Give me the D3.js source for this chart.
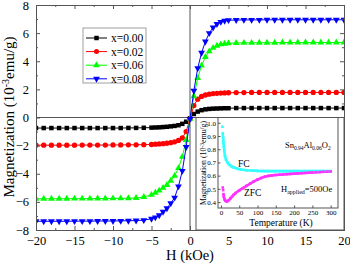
<!DOCTYPE html>
<html>
<head>
<meta charset="utf-8">
<script src="https://cdn.jsdelivr.net/npm/d3@7"></script>
<style>
  body { margin: 0; background: #fff; }
  svg { display: block; font-family: "Liberation Serif", "Times New Roman", serif; }
</style>
</head>
<body>
<svg id="chart" width="350" height="264"></svg>
<script>
  // field values (kOe), shared by all four loops
  var fieldH = [-20,-19,-18,-17,-16,-15,-14,-13,-12,-11,-10,-9,-8,-7,-6,
    -5,-4.5,-4,-3.5,-3,-2.5,-2,-1.5,-1,-0.5,0,0.5,1,1.5,2,2.5,3,3.5,4,4.5,5,
    6,7,8,9,10,11,12,13,14,15,16,17,18,19,20]

  var mX000 = [-0.75,-0.75,-0.75,-0.75,-0.75,-0.75,-0.75,-0.75,-0.75,-0.75,-0.75,-0.75,-0.74,-0.74,-0.73,
    -0.72,-0.71,-0.70,-0.68,-0.66,-0.63,-0.60,-0.55,-0.45,-0.30,-0.05,0.25,0.42,0.52,0.58,0.61,0.63,0.64,0.65,0.66,0.66,
    0.67,0.67,0.67,0.67,0.67,0.67,0.67,0.67,0.67,0.67,0.67,0.67,0.67,0.67,0.67]
  var mX002 = [-1.97,-1.97,-1.97,-1.97,-1.97,-1.97,-1.96,-1.96,-1.96,-1.96,-1.95,-1.95,-1.94,-1.94,-1.93,
    -1.92,-1.90,-1.88,-1.86,-1.83,-1.79,-1.73,-1.63,-1.45,-1.00,-0.10,0.85,1.30,1.50,1.60,1.66,1.70,1.72,1.74,1.75,1.76,
    1.77,1.77,1.78,1.78,1.78,1.78,1.78,1.78,1.78,1.78,1.78,1.78,1.78,1.78,1.78]
  var mX006 = [-5.78,-5.78,-5.78,-5.78,-5.78,-5.77,-5.77,-5.77,-5.76,-5.76,-5.75,-5.75,-5.74,-5.72,-5.65,
    -5.50,-5.35,-5.20,-5.00,-4.80,-4.50,-4.15,-3.60,-2.80,-1.60,-0.10,1.50,2.80,3.70,4.30,4.70,4.95,5.10,5.20,5.25,5.28,
    5.30,5.31,5.31,5.32,5.32,5.32,5.33,5.33,5.33,5.33,5.33,5.33,5.33,5.33,5.33]
  var mX008 = [-7.38,-7.38,-7.38,-7.38,-7.38,-7.37,-7.37,-7.37,-7.36,-7.36,-7.36,-7.35,-7.34,-7.33,-7.30,
    -7.20,-7.10,-6.95,-6.70,-6.45,-6.10,-5.70,-4.90,-3.80,-2.10,-0.10,1.90,3.50,4.60,5.40,6.00,6.40,6.65,6.80,6.88,6.92,
    6.93,6.94,6.94,6.94,6.95,6.95,6.95,6.95,6.95,6.95,6.95,6.95,6.95,6.95,6.95]

  var seriesNames = ["x=0.00", "x=0.02", "x=0.06", "x=0.08"]
  var seriesColors = ["#000000", "#ff0000", "#00ff00", "#0000ff"]
  var seriesShapes = [d3.symbolSquare, d3.symbolCircle, d3.symbolTriangle, "down"]
  var seriesValues = [mX000, mX002, mX006, mX008]

  var xTicks = [-20,-15,-10,-5,0,5,10,15,20]
  var yTicks = [-8,-6,-4,-2,0,2,4,6,8]

  // inset: FC / ZFC vs temperature
  var fcT = [4,5,6,7,8,9,11,14,18,22,28,35,45,55,70,85,100,110,120,130,140,150,160,170,180,190,200,210,220,230,240,250,260,270,280,290,300]
  var fcM = [0.97,0.92,0.885,0.85,0.82,0.79,0.75,0.72,0.70,0.685,0.672,0.662,0.652,0.646,0.641,0.639,0.636,0.635,0.634,0.634,0.634,0.634,0.634,0.634,0.634,0.634,0.634,0.634,0.634,0.634,0.634,0.634,0.634,0.634,0.634,0.634,0.634]
  var zfcT = [5,6,7,8,10,12,15,18,22,26,30,35,40,50,60,70,80,90,100,110,120,130,140,150,160,170,180,190,200,210,220,230,240,250,260,270,280,290,300]
  var zfcM = [0.51,0.49,0.46,0.44,0.42,0.41,0.405,0.407,0.415,0.428,0.44,0.455,0.468,0.488,0.505,0.523,0.54,0.556,0.57,0.582,0.592,0.598,0.602,0.605,0.607,0.609,0.611,0.613,0.615,0.617,0.619,0.621,0.623,0.624,0.626,0.627,0.629,0.63,0.632]
  var insetXTicks = [0,50,100,150,200,250,300]
  var insetYTicks = [0.4,0.5,0.6,0.7,0.8,0.9,1.0]

  var svg = d3.select("#chart")
  var frameColor = "#555"

  var x = d3.scaleLinear().domain([-20, 20]).range([36, 344])
  var y = d3.scaleLinear().domain([-8, 8]).range([230, 5])

  var clip = svg.append("clipPath").attr("id", "clip")
  clip.append("rect").attr("x", 36).attr("y", 5).attr("width", 308).attr("height", 225)

  // zero lines
  svg.append("line").attr("x1", 36).attr("x2", 344).attr("y1", y(0)).attr("y2", y(0))
    .attr("stroke", frameColor).attr("stroke-width", 1)
  svg.append("line").attr("x1", x(0)).attr("x2", x(0)).attr("y1", 5).attr("y2", 230)
    .attr("stroke", frameColor).attr("stroke-width", 1)

  var plot = svg.append("g").attr("clip-path", "url(#clip)")
  var line = d3.line().x(function(d) { return x(d[0]) }).y(function(d) { return y(d[1]) })

  function marker(shape, size) {
    if (shape == "down") {
      return function() { return d3.symbol().type(d3.symbolTriangle).size(size)() }
    }
    return d3.symbol().type(shape).size(size)
  }

  seriesValues.forEach(function(vals, i) {
    var pts = fieldH.map(function(h, j) { return [h, vals[j]] })
    plot.append("path").attr("d", line(pts)).attr("fill", "none")
      .attr("stroke", seriesColors[i]).attr("stroke-width", 1)
    plot.selectAll(".m" + i).data(pts).enter().append("path")
      .attr("d", marker(seriesShapes[i], i == 1 ? 22 : 20))
      .attr("transform", function(d) {
        return "translate(" + x(d[0]) + "," + y(d[1]) + ")" + (seriesShapes[i] == "down" ? " rotate(180)" : "")
      })
      .attr("fill", seriesColors[i])
  })

  // axes (ticks inside, mirrored)
  svg.append("g").attr("transform", "translate(0,230)")
    .call(d3.axisBottom(x).tickValues(xTicks).tickSize(-4).tickPadding(6).tickFormat(d3.format("d")))
  svg.append("g").attr("transform", "translate(0,5)")
    .call(d3.axisTop(x).tickValues(xTicks).tickSize(-4).tickFormat(""))
  svg.append("g").attr("transform", "translate(36,0)")
    .call(d3.axisLeft(y).tickValues(yTicks).tickSize(-4).tickPadding(7).tickFormat(d3.format("d")))
  svg.append("g").attr("transform", "translate(344,0)")
    .call(d3.axisRight(y).tickValues(yTicks).tickSize(-4).tickFormat(""))
  // minor ticks
  svg.append("g").attr("transform", "translate(0,230)")
    .call(d3.axisBottom(x).tickValues([-17.5,-12.5,-7.5,-2.5,2.5,7.5,12.5,17.5]).tickSize(-2).tickFormat(""))
  svg.append("g").attr("transform", "translate(0,5)")
    .call(d3.axisTop(x).tickValues([-17.5,-12.5,-7.5,-2.5,2.5,7.5,12.5,17.5]).tickSize(-2).tickFormat(""))
  svg.append("g").attr("transform", "translate(36,0)")
    .call(d3.axisLeft(y).tickValues([-7,-5,-3,-1,1,3,5,7]).tickSize(-2).tickFormat(""))
  svg.append("g").attr("transform", "translate(344,0)")
    .call(d3.axisRight(y).tickValues([-7,-5,-3,-1,1,3,5,7]).tickSize(-2).tickFormat(""))

  svg.selectAll(".domain").attr("stroke", frameColor)
  svg.selectAll(".tick line").attr("stroke", frameColor)
  svg.selectAll(".tick text").attr("font-family", "Liberation Serif").attr("font-size", 12.5).attr("fill", "#000")

  svg.append("text").attr("x", 190).attr("y", 260).attr("text-anchor", "middle")
    .attr("font-size", 14.5).text("H (kOe)")
  var yl = svg.append("text").attr("transform", "translate(14,117) rotate(-90)")
    .attr("text-anchor", "middle").attr("font-size", 15)
  yl.append("tspan").text("Magnetization (10")
  yl.append("tspan").attr("dy", -5).attr("font-size", 10).text("-3")
  yl.append("tspan").attr("dy", 5).text("emu/g)")

  // legend
  var leg = svg.append("g")
  leg.append("rect").attr("x", 83).attr("y", 28).attr("width", 63).attr("height", 55)
    .attr("fill", "#fff").attr("stroke", "#888").attr("stroke-width", 0.8)
  seriesNames.forEach(function(name, i) {
    var ly = 38 + i * 13.6
    leg.append("line").attr("x1", 86).attr("x2", 107).attr("y1", ly).attr("y2", ly)
      .attr("stroke", seriesColors[i]).attr("stroke-width", 1)
    leg.append("path").attr("d", marker(seriesShapes[i], 20))
      .attr("transform", "translate(96.5," + ly + ")" + (seriesShapes[i] == "down" ? " rotate(180)" : ""))
      .attr("fill", seriesColors[i])
    leg.append("text").attr("x", 111).attr("y", ly + 4).attr("font-size", 11.5).text(name)
  })

  // inset
  var inset = svg.append("g")
  inset.append("rect").attr("x", 196).attr("y", y(0)).attr("width", 148).attr("height", 230 - y(0))
    .attr("fill", "#fff").attr("stroke", frameColor).attr("stroke-width", 1)
  var ix = d3.scaleLinear().domain([-8, 320]).range([218, 338])
  var iy = d3.scaleLinear().domain([0.355, 1.04]).range([208, 117.5])
  inset.append("rect").attr("x", 218).attr("y", 117.5).attr("width", 120).attr("height", 90.5)
    .attr("fill", "none").attr("stroke", frameColor).attr("stroke-width", 1)
  inset.append("g").attr("class", "iax").attr("transform", "translate(0,208)")
    .call(d3.axisBottom(ix).tickValues(insetXTicks).tickSize(-2.5).tickPadding(2))
  inset.append("g").attr("class", "iax").attr("transform", "translate(218,0)")
    .call(d3.axisLeft(iy).tickValues(insetYTicks).tickSize(-2.5).tickPadding(2).tickFormat(d3.format(".1f")))
  inset.selectAll(".iax .domain").remove()
  inset.selectAll(".iax line").attr("stroke", frameColor)
  inset.selectAll(".iax text").attr("font-family", "Liberation Serif").attr("font-size", 7).attr("fill", "#000")

  var iline = d3.line().x(function(d) { return ix(d[0]) }).y(function(d) { return iy(d[1]) })
  var fcPts = fcT.map(function(t, j) { return [t, fcM[j]] })
  var zfcPts = zfcT.map(function(t, j) { return [t, zfcM[j]] })
  inset.append("path").attr("d", iline(fcPts.slice(1))).attr("fill", "none").attr("stroke", "#33ffff").attr("stroke-width", 2.6)
  inset.append("path").attr("d", iline(zfcPts.slice(2))).attr("fill", "none").attr("stroke", "#ff33ff").attr("stroke-width", 2.6)
  inset.selectAll(".fc").data(fcPts).enter().append("rect")
    .attr("x", function(d) { return ix(d[0]) - 1.3 }).attr("y", function(d) { return iy(d[1]) - 1.3 })
    .attr("width", 2.6).attr("height", 2.6).attr("fill", "#33ffff")
  inset.selectAll(".zfc").data(zfcPts).enter().append("rect")
    .attr("x", function(d) { return ix(d[0]) - 1.3 }).attr("y", function(d) { return iy(d[1]) - 1.3 })
    .attr("width", 2.6).attr("height", 2.6).attr("fill", "#ff33ff")

  inset.append("text").attr("x", 281).attr("y", 226).attr("text-anchor", "middle")
    .attr("font-size", 9.5).text("Temperature (K)")
  var iyl = inset.append("text").attr("transform", "translate(206,163) rotate(-90)")
    .attr("text-anchor", "middle").attr("font-size", 7.8)
  iyl.append("tspan").text("Magnetization (10")
  iyl.append("tspan").attr("dy", -2.5).attr("font-size", 5.5).text("-3")
  iyl.append("tspan").attr("dy", 2.5).text("emu/g)")

  var t1 = inset.append("text").attr("x", 285).attr("y", 148).attr("font-size", 8.5)
  t1.append("tspan").text("Sn")
  t1.append("tspan").attr("dy", 2).attr("font-size", 5.5).text("0.94")
  t1.append("tspan").attr("dy", -2).text("Al")
  t1.append("tspan").attr("dy", 2).attr("font-size", 5.5).text("0.06")
  t1.append("tspan").attr("dy", -2).text("O")
  t1.append("tspan").attr("dy", 2).attr("font-size", 5.5).text("2")
  inset.append("text").attr("x", 238).attr("y", 167).attr("font-size", 9.5).text("FC")
  inset.append("text").attr("x", 244).attr("y", 196).attr("font-size", 9.5).text("ZFC")
  var t2 = inset.append("text").attr("x", 281).attr("y", 192).attr("font-size", 8.5)
  t2.append("tspan").text("H")
  t2.append("tspan").attr("dy", 2).attr("font-size", 6).text("applied")
  t2.append("tspan").attr("dy", -2).text("=500Oe")
</script>
</body>
</html>
